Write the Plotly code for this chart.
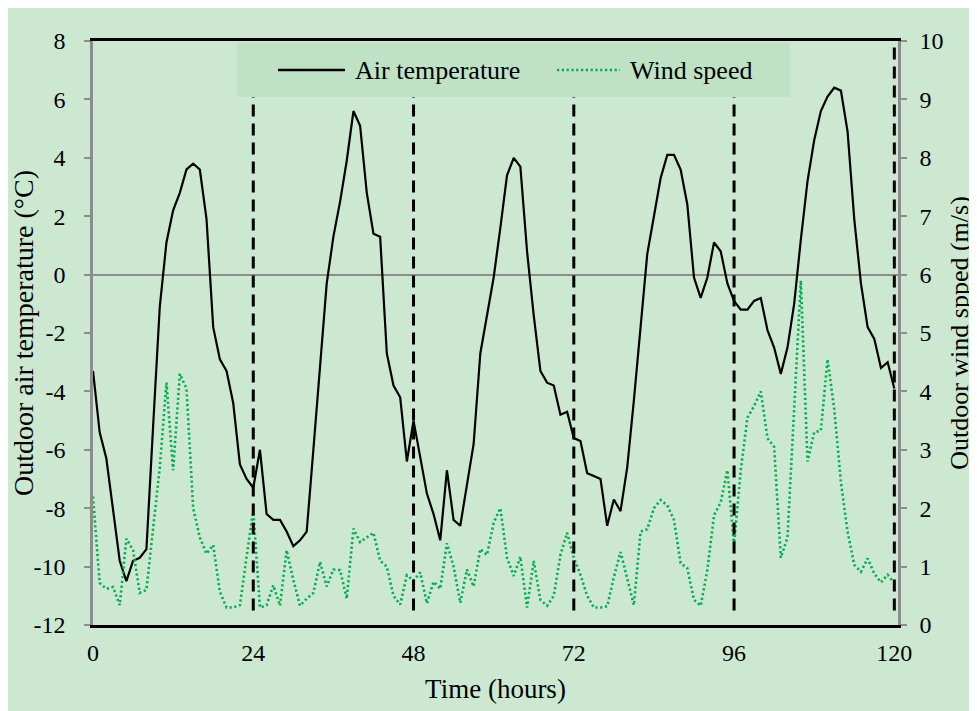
import plotly.graph_objects as go

hours = list(range(121))

air_temperature = [
    -3.3, -5.4, -6.3, -8.0, -9.8, -10.5, -9.8, -9.7, -9.4, -5.2,
    -1.1, 1.1, 2.2, 2.8, 3.6, 3.8, 3.6, 1.9, -1.8, -2.9,
    -3.3, -4.4, -6.5, -7.0, -7.3, -6.0, -8.2, -8.4, -8.4, -8.8,
    -9.3, -9.1, -8.8, -6.0, -3.0, -0.3, 1.3, 2.5, 3.9, 5.6,
    5.1, 2.8, 1.4, 1.3, -2.7, -3.8, -4.2, -6.4, -5.0, -6.2,
    -7.5, -8.2, -9.1, -6.7, -8.4, -8.6, -7.2, -5.8, -2.7, -1.4,
    -0.1, 1.6, 3.4, 4.0, 3.7, 0.8, -1.4, -3.3, -3.7, -3.8,
    -4.8, -4.7, -5.6, -5.7, -6.8, -6.9, -7.0, -8.6, -7.7, -8.1,
    -6.6, -4.3, -1.7, 0.7, 2.0, 3.3, 4.1, 4.1, 3.6, 2.4,
    -0.1, -0.8, -0.1, 1.1, 0.8, -0.3, -0.9, -1.2, -1.2, -0.9,
    -0.8, -1.9, -2.5, -3.4, -2.5, -1.0, 1.2, 3.2, 4.6, 5.6,
    6.1, 6.4, 6.3, 4.9, 1.9, -0.3, -1.8, -2.2, -3.2, -3.0,
    -3.9,
]

wind_speed = [
    2.2, 0.72, 0.62, 0.65, 0.34, 1.48, 1.28, 0.55, 0.6, 1.6,
    2.7, 4.15, 2.65, 4.3, 4.05, 2.0, 1.5, 1.22, 1.37, 0.57,
    0.3, 0.3, 0.34, 1.17, 1.97, 0.3, 0.34, 0.68, 0.33, 1.28,
    0.77, 0.33, 0.45, 0.55, 1.08, 0.66, 0.95, 0.94, 0.45, 1.65,
    1.42, 1.5, 1.58, 1.1, 1.0, 0.5, 0.35, 0.85, 0.76, 0.9,
    0.37, 0.74, 0.62, 1.4, 1.0, 0.38, 0.95, 0.66, 1.3, 1.2,
    1.75, 2.0, 1.15, 0.84, 1.17, 0.3, 1.1, 0.43, 0.33, 0.5,
    1.2, 1.58, 1.15, 0.86, 0.5, 0.3, 0.3, 0.32, 0.82, 1.25,
    0.77, 0.34, 1.6, 1.64, 2.0, 2.14, 2.05, 1.8, 1.06, 0.97,
    0.43, 0.33, 0.94, 1.88, 2.1, 2.65, 1.37, 2.65, 3.55, 3.75,
    4.0, 3.2, 3.05, 1.15, 1.5, 3.6, 5.9, 2.8, 3.3, 3.33,
    4.55, 3.7, 2.45, 1.6, 1.03, 0.91, 1.14, 0.88, 0.73, 0.86,
    0.72,
]

series_names = ["Air temperature", "Wind speed"]
day_boundaries = [24, 48, 72, 96, 120]
x_ticks = [0, 24, 48, 72, 96, 120]
temp_ticks = [8, 6, 4, 2, 0, -2, -4, -6, -8, -10, -12]
wind_ticks = [0, 1, 2, 3, 4, 5, 6, 7, 8, 9, 10]

FONT = "Liberation Serif, Times New Roman, serif"
BG = "#cde8d0"
GREEN = "#00b050"
AXIS_GREY = "#8c8c8c"
TICK_SIZE = 24
XTITLE_SIZE = 27
YTITLE_SIZE = 28
Y2TITLE_SIZE = 26
LEGEND_SIZE = 26

fig = go.Figure()

fig.add_trace(go.Scatter(
    x=hours, y=air_temperature, name=series_names[0], mode="lines",
    line=dict(color="black", width=2.2), yaxis="y", showlegend=False,
))
fig.add_trace(go.Scatter(
    x=hours, y=wind_speed, name=series_names[1], mode="lines",
    line=dict(color=GREEN, width=2.6, dash="2.2px,2.6px"), yaxis="y2",
    showlegend=False,
))

shapes = []
for d in day_boundaries:
    shapes.append(dict(
        type="line", xref="x", yref="y", x0=d, x1=d, y0=-11.5, y1=8,
        line=dict(color="black", width=3, dash="12px,7px"), layer="above",
    ))
# legend box (drawn manually so the samples are as long as in the original)
LEG_Y = 0.9503
shapes.append(dict(
    type="rect", xref="paper", yref="paper", x0=0.1789, x1=0.8658, y0=0.904, y1=0.997,
    fillcolor="#bfe2c5", line=dict(width=0), layer="above",
))
shapes.append(dict(
    type="line", xref="paper", yref="paper", x0=0.2298, x1=0.3130, y0=LEG_Y, y1=LEG_Y,
    line=dict(color="black", width=2.4), layer="above",
))
shapes.append(dict(
    type="line", xref="paper", yref="paper", x0=0.5764, x1=0.6547, y0=LEG_Y, y1=LEG_Y,
    line=dict(color=GREEN, width=2.6, dash="2.2px,2.6px"), layer="above",
))
annotations = [
    dict(text=series_names[0], xref="paper", yref="paper", x=0.3230, y=LEG_Y,
         xanchor="left", yanchor="middle", showarrow=False,
         font=dict(family=FONT, size=LEGEND_SIZE, color="black")),
    dict(text=series_names[1], xref="paper", yref="paper", x=0.6646, y=LEG_Y,
         xanchor="left", yanchor="middle", showarrow=False,
         font=dict(family=FONT, size=LEGEND_SIZE, color="black")),
]

fig.update_layout(
    width=969, height=703,
    paper_bgcolor=BG, plot_bgcolor=BG,
    margin=dict(l=85, r=79, t=33, b=86, autoexpand=False),
    font=dict(family=FONT, size=TICK_SIZE, color="black"),
    showlegend=False,
    shapes=shapes, annotations=annotations,
    xaxis=dict(
        range=[0, 120.55], tickvals=x_ticks, ticktext=[str(v) for v in x_ticks],
        showgrid=False, zeroline=False, showline=True, linecolor="black",
        linewidth=3, mirror=True, ticks="", ticklabelstandoff=4, automargin=False,
        title=dict(text="Time (hours)", font=dict(family=FONT, size=XTITLE_SIZE), standoff=15),
        tickfont=dict(family=FONT, size=TICK_SIZE),
    ),
    yaxis=dict(
        range=[-12, 8], tickvals=temp_ticks, ticktext=[str(v) for v in temp_ticks],
        showgrid=False, zeroline=True, zerolinecolor=AXIS_GREY, zerolinewidth=1.6,
        showline=True, linecolor=AXIS_GREY, linewidth=2.5,
        ticks="outside", ticklen=6, tickcolor=AXIS_GREY, tickwidth=1.5,
        ticklabelstandoff=14, automargin=False,
        title=dict(text="Outdoor air temperature (°C)", font=dict(family=FONT, size=YTITLE_SIZE), standoff=2),
        tickfont=dict(family=FONT, size=TICK_SIZE),
    ),
    yaxis2=dict(
        range=[0, 10], tickvals=wind_ticks, ticktext=[str(v) for v in wind_ticks],
        overlaying="y", side="right",
        showgrid=False, zeroline=False,
        showline=True, linecolor=AXIS_GREY, linewidth=2.5,
        ticks="outside", ticklen=6, tickcolor=AXIS_GREY, tickwidth=1.5,
        ticklabelstandoff=8, automargin=False,
        title=dict(text="Outdoor wind spped (m/s)", font=dict(family=FONT, size=Y2TITLE_SIZE), standoff=8),
        tickfont=dict(family=FONT, size=TICK_SIZE),
    ),
)

fig.write_html("out.html")
